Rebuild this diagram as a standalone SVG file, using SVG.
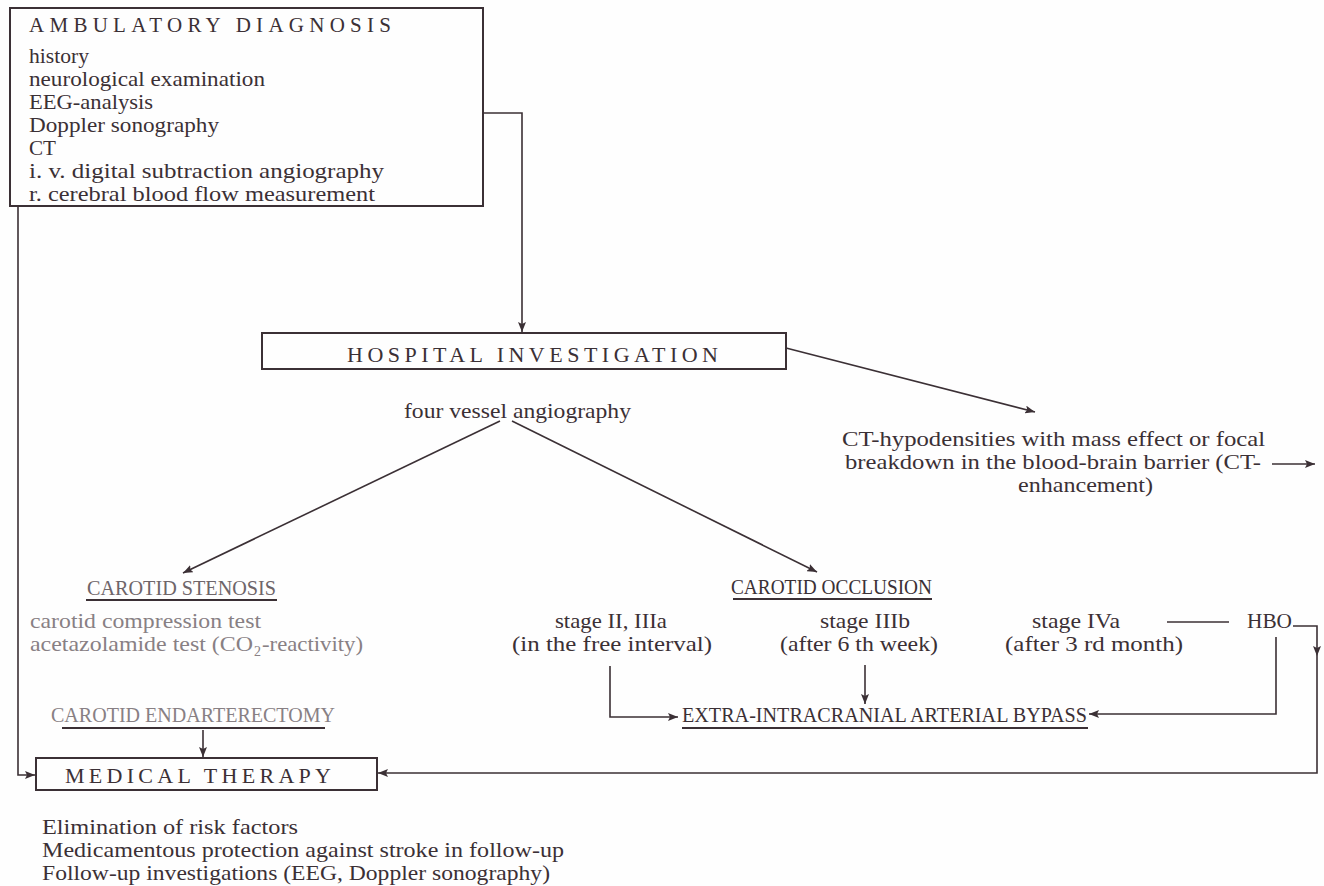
<svg xmlns="http://www.w3.org/2000/svg" width="1324" height="886" viewBox="0 0 1324 886">
<style>
text{font-family:"Liberation Serif","Times New Roman",serif;font-size:22px;fill:#3b3035}
.g{fill:#888084}
.gd{fill:#6e6569}
.cap{font-size:21px}
.sm{font-size:21px}
.box{fill:none;stroke:#3b3035;stroke-width:2}
.ln{fill:none;stroke:#3b3035;stroke-width:1.6}
.ul{fill:none;stroke:#3b3035;stroke-width:1.8}
</style>
<defs>
<marker id="ah" viewBox="0 0 10 8" refX="10" refY="4" markerWidth="10" markerHeight="8" markerUnits="userSpaceOnUse" orient="auto">
<path d="M0,0 L10,4 L0,8 L2,4 Z" fill="#3b3035"/>
</marker>
</defs>
<rect width="1324" height="886" fill="#fefefe"/>

<g id="ambulatory">
<rect class="box" x="10" y="8" width="473" height="198"/>
<text class="cap" x="29" y="32" textLength="362" lengthAdjust="spacing">AMBULATORY DIAGNOSIS</text>
<text x="29" y="63" textLength="60" lengthAdjust="spacingAndGlyphs">history</text>
<text x="29" y="86" textLength="236" lengthAdjust="spacingAndGlyphs">neurological examination</text>
<text x="29" y="109" textLength="124" lengthAdjust="spacingAndGlyphs">EEG-analysis</text>
<text x="29" y="132" textLength="190" lengthAdjust="spacingAndGlyphs">Doppler sonography</text>
<text x="29" y="155" textLength="27" lengthAdjust="spacingAndGlyphs">CT</text>
<text x="29" y="178" textLength="355" lengthAdjust="spacingAndGlyphs">i. v. digital subtraction angiography</text>
<text x="29" y="201" textLength="346" lengthAdjust="spacingAndGlyphs">r. cerebral blood flow measurement</text>
</g>

<g id="hospital">
<rect class="box" x="262" y="333" width="524" height="36"/>
<text x="347" y="362" textLength="371" lengthAdjust="spacing">HOSPITAL INVESTIGATION</text>
</g>

<g id="angiography">
<text x="404" y="418" textLength="227" lengthAdjust="spacingAndGlyphs">four vessel angiography</text>
</g>

<g id="ct">
<text class="sm" x="842" y="446" textLength="423" lengthAdjust="spacingAndGlyphs">CT-hypodensities with mass effect or focal</text>
<text class="sm" x="845" y="469" textLength="416" lengthAdjust="spacingAndGlyphs">breakdown in the blood-brain barrier (CT-</text>
<text class="sm" x="1018" y="492" textLength="135" lengthAdjust="spacingAndGlyphs">enhancement)</text>
</g>

<g id="stenosis">
<text class="gd" x="87" y="595" textLength="189" lengthAdjust="spacingAndGlyphs">CAROTID STENOSIS</text>
<line class="ul" x1="86" y1="600" x2="277" y2="600"/>
<text class="g" x="30" y="628" textLength="231" lengthAdjust="spacingAndGlyphs">carotid compression test</text>
<text class="g" x="30" y="651" textLength="223" lengthAdjust="spacingAndGlyphs">acetazolamide test (CO</text>
<text class="g" x="254" y="656" style="font-size:14px">2</text>
<text class="g" x="262" y="651" textLength="101" lengthAdjust="spacingAndGlyphs">-reactivity)</text>
</g>

<g id="occlusion">
<text x="731" y="594" textLength="201" lengthAdjust="spacingAndGlyphs">CAROTID OCCLUSION</text>
<line class="ul" x1="733" y1="599" x2="932" y2="599"/>
</g>

<g id="stage2">
<text x="555" y="628" textLength="112" lengthAdjust="spacingAndGlyphs">stage II, IIIa</text>
<text x="512" y="651" textLength="200" lengthAdjust="spacingAndGlyphs">(in the free interval)</text>
</g>

<g id="stage3b">
<text x="820" y="628" textLength="90" lengthAdjust="spacingAndGlyphs">stage IIIb</text>
<text x="780" y="651" textLength="158" lengthAdjust="spacingAndGlyphs">(after 6 th week)</text>
</g>

<g id="stage4a">
<text x="1032" y="628" textLength="88" lengthAdjust="spacingAndGlyphs">stage IVa</text>
<text x="1005" y="651" textLength="178" lengthAdjust="spacingAndGlyphs">(after 3 rd month)</text>
</g>

<g id="hbo">
<text x="1247" y="628" textLength="45" lengthAdjust="spacingAndGlyphs">HBO</text>
</g>

<g id="bypass">
<text x="682" y="722" textLength="405" lengthAdjust="spacingAndGlyphs">EXTRA-INTRACRANIAL ARTERIAL BYPASS</text>
<line class="ul" x1="682" y1="728" x2="1088" y2="728"/>
</g>

<g id="endarterectomy">
<text class="g" x="51" y="722" textLength="284" lengthAdjust="spacingAndGlyphs">CAROTID ENDARTERECTOMY</text>
<line class="ul" x1="62" y1="728" x2="325" y2="728"/>
</g>

<g id="medical">
<rect class="box" x="36" y="758" width="341" height="32"/>
<text x="65" y="783" textLength="266" lengthAdjust="spacing">MEDICAL THERAPY</text>
</g>

<g id="followup">
<text x="42" y="834" textLength="256" lengthAdjust="spacingAndGlyphs">Elimination of risk factors</text>
<text x="42" y="857" textLength="522" lengthAdjust="spacingAndGlyphs">Medicamentous protection against stroke in follow-up</text>
<text x="42" y="880" textLength="508" lengthAdjust="spacingAndGlyphs">Follow-up investigations (EEG, Doppler sonography)</text>
</g>

<g id="connectors">
<polyline class="ln" points="483,113 522,113 522,332" marker-end="url(#ah)"/>
<polyline class="ln" points="18,206 18,775 35,775" marker-end="url(#ah)"/>
<line class="ln" x1="786" y1="348" x2="1035" y2="412" marker-end="url(#ah)"/>
<line class="ln" x1="500" y1="421" x2="183" y2="573" marker-end="url(#ah)"/>
<line class="ln" x1="512" y1="421" x2="817" y2="572" marker-end="url(#ah)"/>
<line class="ln" x1="1272" y1="464" x2="1315" y2="464" marker-end="url(#ah)"/>
<line class="ln" x1="1167" y1="622" x2="1229" y2="622"/>
<polyline class="ln" points="1293,626 1317,626 1317,656" marker-end="url(#ah)"/>
<polyline class="ln" points="1317,656 1317,773 378,773" marker-end="url(#ah)"/>
<polyline class="ln" points="1276,637 1276,714 1089,714" marker-end="url(#ah)"/>
<polyline class="ln" points="610,666 610,717 678,717" marker-end="url(#ah)"/>
<line class="ln" x1="865" y1="665" x2="865" y2="704" marker-end="url(#ah)"/>
<line class="ln" x1="203" y1="730" x2="203" y2="757" marker-end="url(#ah)"/>
</g>
</svg>
